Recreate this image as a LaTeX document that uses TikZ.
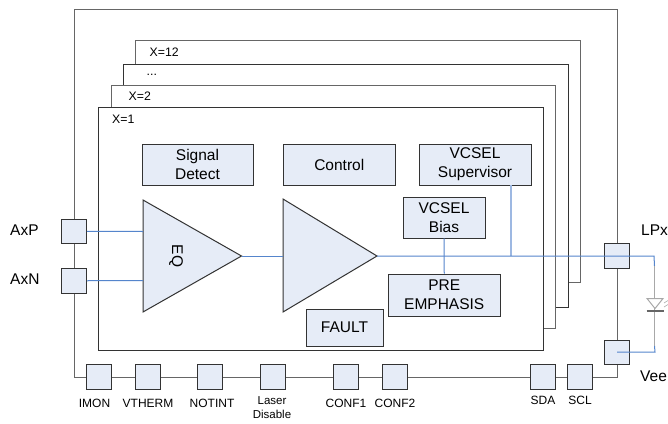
\documentclass[tikz,border=0pt]{standalone}
\usepackage{fontspec}
\setmainfont{Liberation Sans}
\definecolor{blockfill}{HTML}{E6ECF7}
\definecolor{edge}{HTML}{333333}
\definecolor{wire}{HTML}{5585CC}
\definecolor{wirelight}{HTML}{9DB8E2}
\definecolor{shell}{HTML}{666666}
\definecolor{ledgray}{HTML}{A8A8A8}
\tikzset{
  panel/.style={draw=edge,line width=1pt,fill=white},
  shellbox/.style={draw=shell,line width=1pt},
  block/.style={draw=edge,line width=.9pt,fill=blockfill,inner sep=0pt,align=center,font=\fontsize{15.5}{18.7}\selectfont},
  port/.style={block,minimum width=25pt,minimum height=24.5pt},
  amp/.style={draw=edge,line width=1pt,fill=blockfill,line join=miter},
  sig/.style={draw=wire,line width=1pt},
  siglight/.style={draw=wirelight,line width=1.4pt},
  lbl/.style={inner sep=0pt,anchor=west,font=\fontsize{15.5}{18.7}\selectfont},
  tag/.style={inner sep=0pt,anchor=west,font=\fontsize{12.3}{14}\selectfont},
  pinlabel/.style={inner sep=0pt,align=center,font=\fontsize{12}{14}\selectfont},
}
\newcommand{\blockat}[7]{\node[#7,minimum width=#4pt-#2pt,minimum height=#5pt-#3pt] (#1) at ({(#2+#4)/2},{(#3+#5)/2}) {#6};}
\begin{document}
\begin{tikzpicture}[x=1pt,y=-1pt]
\useasboundingbox (0,0) rectangle (668,423);
% outer shell
\draw[shellbox] (74,9) rectangle (617,377);
% stacked channels, back to front
\draw[panel,draw=shell] (135,40) rectangle (580,282);
\draw[panel] (123,64) rectangle (568,307);
\draw[panel,draw=shell] (111,85) rectangle (555.5,328);
\draw[panel] (98.5,107) rectangle (543,350);
\node[tag] (x12) at (149.5,52) {X=12};
\node[tag] (xdots) at (146.5,74.5) {...};
\node[tag] (x2) at (128.5,96) {X=2};
\node[tag] (x1) at (112,119) {X=1};
% blocks
\blockat{sd}{142}{144}{253}{185}{Signal\\Detect}{block}
\blockat{ctl}{283.5}{144}{395}{185}{Control}{block}
\blockat{sup}{419}{144}{531}{185}{VCSEL\\Supervisor}{block}
\blockat{bias}{403}{197}{485}{238}{VCSEL\\Bias}{block}
\blockat{pre}{388.5}{274}{500}{316}{PRE\\EMPHASIS}{block}
\blockat{fault}{306}{309}{383}{346}{FAULT}{block}
% amplifiers
\coordinate (eqout) at (241.5,256);
\coordinate (ampin) at (283,256);
\coordinate (ampout) at (377,256);
\coordinate (eqa) at (143,231.5);
\coordinate (eqb) at (143,280.5);
\coordinate (tap) at (511,256);
\coordinate (lpc) at (617,256);
\coordinate (lpt) at (654,256);
\coordinate (ledtop) at (654.5,266);
\coordinate (ledbot) at (654.5,346);
\coordinate (vec) at (617,352);
\coordinate (vet) at (655,352);
% signal wires beneath the blocks
\draw[siglight] (sup.south -| tap) -- (tap);
\draw[amp] (143,200) -- (143,312) -- (eqout) -- cycle;
\draw[amp] (283,199) -- (283,312) -- (ampout) -- cycle;
\node[rotate=-90,inner sep=0pt,font=\fontsize{15.5}{18.7}\selectfont] (eqlabel) at (176,256) {EQ};
% ports
\node[port] (axp) at (74,231.25) {};
\node[port] (axn) at (74,280.75) {};
\node[port] (imon) at (98.5,376.75) {};
\node[port] (vth) at (147.75,376.75) {};
\node[port] (nti) at (209.5,376.75) {};
\node[port] (las) at (272.5,376.75) {};
\node[port] (cf1) at (345.5,376.75) {};
\node[port] (cf2) at (395,376.75) {};
\node[port] (sda) at (543,376.75) {};
\node[port] (scl) at (580,376.75) {};
\node[port] (lpx) at (617,256) {};
\node[port] (vee) at (617,352.25) {};
% wires
\draw[sig] (axp.east) -- (eqa);
\draw[sig] (axn.east) -- (eqb);
\draw[sig] (eqout) -- (ampin);
\draw[sig] (ampout) -- (lpc) -- (lpt) -- (ledtop);
\draw[sig] (bias.south) -- (pre.north);
\draw[ledgray,line width=1.4pt] (ledtop) -- (ledbot);
\draw[sig] (vec) -- (vet) -- (ledbot);
% LED
\draw[ledgray,line width=1pt,fill=white] (647,298.5) -- (663,298.5) -- (655,308.5) -- cycle;
\draw[shell,line width=1.2pt] (646.5,311) -- (663.5,311);
\draw[ledgray,line width=.6pt] (664,303) -- (668,300.5) (664,307) -- (668,304.5);
% labels
\node[lbl] (laxp) at (10,230) {AxP};
\node[lbl] (laxn) at (10,279) {AxN};
\node[lbl] (llpx) at (641,230) {LPx};
\node[lbl] (lvee) at (640,376) {Vee};
\node[pinlabel] (limon) at (94.5,403) {IMON};
\node[pinlabel] (lvth) at (148,403) {VTHERM};
\node[pinlabel] (lnti) at (212,403) {NOTINT};
\node[pinlabel,font=\fontsize{11.5}{14.5}\selectfont] (llas) at (272,407.5) {Laser\\Disable};
\node[pinlabel] (lcf1) at (346,403) {CONF1};
\node[pinlabel] (lcf2) at (395,403) {CONF2};
\node[pinlabel] (lsda) at (543,400.5) {SDA};
\node[pinlabel] (lscl) at (580,400.5) {SCL};
\end{tikzpicture}
\end{document}
